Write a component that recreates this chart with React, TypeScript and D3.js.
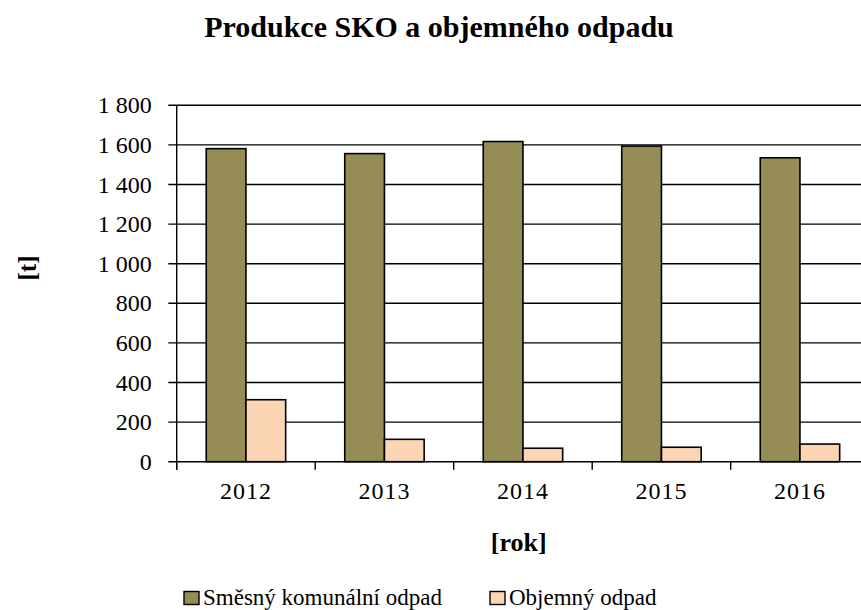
import React from "react";
import * as d3 from "d3";

const years = ["2012", "2013", "2014", "2015", "2016"];
const sko = [1581, 1556, 1617, 1594, 1535];
const objemny = [313, 113, 68, 73, 89];
const yTicks = [0, 200, 400, 600, 800, 1000, 1200, 1400, 1600, 1800];
const seriesNames = ["Směsný komunální odpad", "Objemný odpad"];
const colors = ["#968C55", "#FCD5B5"];

const W = 861;
const H = 610;
const left = 176.7;
const bandW = 138.5;
const right = left + bandW * years.length;
const top = 105.3;
const bottom = 461.7;
const font = "Liberation Serif, Tinos, Times New Roman, DejaVu Serif, serif";

const fmt = (v: number) => {
  const s = String(v);
  return s.length > 3 ? s.slice(0, s.length - 3) + " " + s.slice(-3) : s;
};

export default function App() {
  const x = d3.scaleBand<string>().domain(years).range([left, right]).paddingInner(0).paddingOuter(0);
  const y = d3.scaleLinear().domain([0, 1800]).range([bottom, top]);
  const sub = d3.scaleBand<number>().domain([0, 1]).range([0, x.bandwidth()]).paddingInner(0).paddingOuter(0.744);
  const series = [sko, objemny];
  const ts = { fontFamily: font };

  return (
    <svg width={W} height={H} style={{ position: "absolute", left: 0, top: 0, background: "#fff" }}>
      <rect x={0} y={0} width={W} height={H} fill="#fff" />
      <text x={439} y={37} textAnchor="middle" style={ts} fontWeight="bold" fontSize={30}>
        Produkce SKO a objemného odpadu
      </text>
      {yTicks.map((t) => (
        <g key={t}>
          <line x1={168.3} x2={right} y1={y(t)} y2={y(t)} stroke="#000" strokeWidth={1.4} />
          <text x={151.7} y={y(t) + 8} textAnchor="end" style={ts} fontSize={24}>
            {fmt(t)}
          </text>
        </g>
      ))}
      <line x1={left} x2={left} y1={top} y2={bottom + 8} stroke="#000" strokeWidth={1.4} />
      {years.map((yr, i) => (
        <g key={yr}>
          <line x1={x(yr)!} x2={x(yr)!} y1={bottom} y2={bottom + 8} stroke="#000" strokeWidth={1.4} />
          <text x={x(yr)! + x.bandwidth() / 2} y={499.3} textAnchor="middle" style={ts} fontSize={24} letterSpacing={1}>
            {yr}
          </text>
          {series.map((s, k) => (
            <rect
              key={k}
              x={x(yr)! + sub(k)!}
              y={y(s[i])}
              width={sub.bandwidth()}
              height={bottom - y(s[i])}
              fill={colors[k]}
              stroke="#000"
              strokeWidth={1.6}
            />
          ))}
        </g>
      ))}
      <text x={518.7} y={551} textAnchor="middle" style={ts} fontWeight="bold" fontSize={26}>
        [rok]
      </text>
      <text transform="translate(36,268) rotate(-90)" textAnchor="middle" style={ts} fontWeight="bold" fontSize={25}>
        [t]
      </text>
      {seriesNames.map((n, k) => {
        const lx = k === 0 ? 184 : 490;
        return (
          <g key={n}>
            <rect x={lx} y={591.5} width={15} height={13} fill={colors[k]} stroke="#000" strokeWidth={1.4} />
            <text x={lx + 19} y={605} style={ts} fontSize={23}>
              {n}
            </text>
          </g>
        );
      })}
    </svg>
  );
}
